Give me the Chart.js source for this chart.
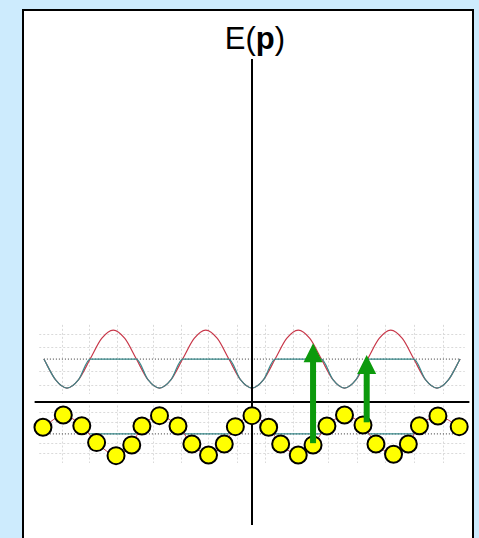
<!DOCTYPE html>
<html>
<head>
<meta charset="utf-8">
<script src="https://cdn.jsdelivr.net/npm/chart.js@4"></script>
<style>
  html, body { margin: 0; padding: 0; }
  body { width: 479px; height: 538px; background: #cdebfd; position: relative; overflow: hidden; }
  #panel { position: absolute; left: 22px; top: 9px; width: 452px; height: 545px; box-sizing: border-box; border: 2px solid #000; background: #fff; }
  #title { position: absolute; left: 155px; top: 23px; width: 200px; text-align: center; font: 31px "Liberation Sans", Arial, sans-serif; line-height: 31px; color: #000; }
  #chart { position: absolute; left: 0; top: 0; }
</style>
</head>
<body>
<div id="panel"></div>
<div id="title">E(<b>p</b>)</div>
<canvas id="chart" width="479" height="538"></canvas>
<script>
// upper band: E(p), sampled every 1/8 period
const upperP = [-2.25, -2.125, -2, -1.875, -1.75, -1.625, -1.5, -1.375, -1.25, -1.125, -1, -0.875,
  -0.75, -0.625, -0.5, -0.375, -0.25, -0.125, 0, 0.125, 0.25, 0.375, 0.5, 0.625, 0.75, 0.875,
  1, 1.125, 1.25, 1.375, 1.5, 1.625, 1.75, 1.875, 2, 2.125, 2.25];
const upperE = [1.48, 0.77, 0.48, 0.77, 1.48, 2.19, 2.48, 2.19, 1.48, 0.77, 0.48, 0.77,
  1.48, 2.19, 2.48, 2.19, 1.48, 0.77, 0.48, 0.77, 1.48, 2.19, 2.48, 2.19, 1.48, 0.77,
  0.48, 0.77, 1.48, 2.19, 2.48, 2.19, 1.48, 0.77, 0.48, 0.77, 1.48];
const upperLevel = 1.48;

// lower band: yellow circles
const lowerP = [-2.26, -2.04, -1.84, -1.68, -1.47, -1.30, -1.19, -1.00, -0.80, -0.65, -0.47, -0.30,
  -0.18, 0.00, 0.18, 0.31, 0.50, 0.66, 0.81, 1.00, 1.20, 1.34, 1.53, 1.69, 1.81, 2.01, 2.24];
const lowerE = [-0.87, -0.45, -0.82, -1.40, -1.85, -1.48, -0.83, -0.47, -0.83, -1.45, -1.83, -1.45,
  -0.85, -0.47, -0.87, -1.45, -1.83, -1.48, -0.83, -0.45, -0.79, -1.45, -1.80, -1.45, -0.82, -0.48, -0.85];
const lowerLevel = -1.10;
const lowerFlat = [[-1.75, -1.25], [-0.75, -0.25], [0.25, 0.75], [1.25, 1.75]];

// arrows (p, from E, to E)
const arrowP = [0.66, 1.24];
const arrowFrom = [-1.42, -0.70];
const arrowTo = [2.03, 1.62];

// faint grid behind the curves
const gridP = [-2.05, -1.76, -1.46, -1.07, -0.77, -0.48, -0.16, 0.14, 0.44, 0.82, 1.14, 1.44, 1.75, 2.06];
const gridUpperE = [2.34, 1.90, 1.07, 0.59];
const gridLowerE = [-0.34, -0.69, -1.41, -1.76];
const bandUpper = [2.66, 0.28];
const bandLower = [-0.12, -2.10];
const gridSpanP = [-2.3, 2.3];

const RED = '#c8384a';
const TEAL = '#3b8a8c';
const GREEN = '#0c9a0c';

const xy = (ps, es) => ps.map((p, i) => ({ x: p, y: es[i] }));

const tealUpper = xy(upperP, upperE.map(e => Math.min(e, upperLevel)));
const tealLower = [];
lowerFlat.forEach(seg => {
  tealLower.push({ x: seg[0], y: lowerLevel }, { x: seg[1], y: lowerLevel }, { x: NaN, y: NaN });
});

const gridPlugin = {
  id: 'bandGrid',
  beforeDatasetsDraw(chart) {
    const { ctx, scales: { x, y } } = chart;
    ctx.save();
    ctx.strokeStyle = '#dadada';
    ctx.lineWidth = 1;
    ctx.setLineDash([2, 2]);
    [[bandUpper, gridUpperE], [bandLower, gridLowerE]].forEach(([band, rows]) => {
      const top = y.getPixelForValue(band[0]);
      const bottom = y.getPixelForValue(band[1]);
      gridP.forEach(p => {
        const px = Math.round(x.getPixelForValue(p)) + 0.5;
        ctx.beginPath(); ctx.moveTo(px, top); ctx.lineTo(px, bottom); ctx.stroke();
      });
      rows.forEach(e => {
        const py = Math.round(y.getPixelForValue(e)) + 0.5;
        ctx.beginPath();
        ctx.moveTo(x.getPixelForValue(gridSpanP[0]), py);
        ctx.lineTo(x.getPixelForValue(gridSpanP[1]), py);
        ctx.stroke();
      });
    });
    ctx.restore();
  }
};

const arrowPlugin = {
  id: 'arrows',
  afterDatasetsDraw(chart) {
    const { ctx, scales: { x, y } } = chart;
    ctx.save();
    ctx.fillStyle = GREEN;
    arrowP.forEach((p, i) => {
      const px = x.getPixelForValue(p);
      const y0 = y.getPixelForValue(arrowFrom[i]);
      const y1 = y.getPixelForValue(arrowTo[i]);
      const headLen = 19, headW = 19;
      ctx.fillRect(px - 3, y1 + headLen - 1, 6, y0 - y1 - headLen + 1);
      ctx.beginPath();
      ctx.moveTo(px, y1);
      ctx.lineTo(px + headW / 2, y1 + headLen);
      ctx.lineTo(px - headW / 2, y1 + headLen);
      ctx.closePath();
      ctx.fill();
    });
    ctx.restore();
  }
};

new Chart(document.getElementById('chart'), {
  type: 'line',
  data: {
    datasets: [
      {
        // yellow circles on thin red line
        data: xy(lowerP, lowerE),
        borderColor: RED, borderWidth: 1, tension: 0.3,
        pointRadius: 8.5, pointBackgroundColor: '#ffff00', pointBorderColor: '#000', pointBorderWidth: 2,
        order: 1
      },
      {
        // vertical axis
        data: [{ x: 0, y: -4.24 }, { x: 0, y: 11.83 }],
        borderColor: '#000', borderWidth: 2, pointRadius: 0, order: 2
      },
      {
        // horizontal axis
        data: [{ x: -2.35, y: 0 }, { x: 2.35, y: 0 }],
        borderColor: '#000', borderWidth: 2, pointRadius: 0, order: 3
      },
      {
        data: tealLower, borderColor: TEAL, borderWidth: 1.2, pointRadius: 0, spanGaps: false, order: 4
      },
      {
        data: tealUpper, borderColor: TEAL, borderWidth: 1.2, pointRadius: 0,
        cubicInterpolationMode: 'monotone', order: 5
      },
      {
        data: xy(upperP, upperE), borderColor: RED, borderWidth: 1.2, pointRadius: 0,
        cubicInterpolationMode: 'monotone', order: 6
      },
      {
        data: [{ x: -2.25, y: upperLevel }, { x: 2.25, y: upperLevel }],
        borderColor: '#333', borderWidth: 1, borderDash: [1, 2], pointRadius: 0, order: 7
      },
      {
        data: [{ x: -2.25, y: lowerLevel }, { x: 2.25, y: lowerLevel }],
        borderColor: '#333', borderWidth: 1, borderDash: [1, 2], pointRadius: 0, order: 8
      }
    ]
  },
  options: {
    responsive: false,
    animation: false,
    devicePixelRatio: 1,
    layout: { autoPadding: false, padding: { left: 30, right: 5, top: 54, bottom: 5.5 } },
    plugins: { legend: { display: false }, tooltip: { enabled: false } },
    events: [],
    scales: {
      x: { type: 'linear', min: -2.4, max: 2.4, display: false },
      y: { type: 'linear', min: -4.5, max: 12, display: false }
    }
  },
  plugins: [gridPlugin, arrowPlugin]
});
</script>
</body>
</html>
